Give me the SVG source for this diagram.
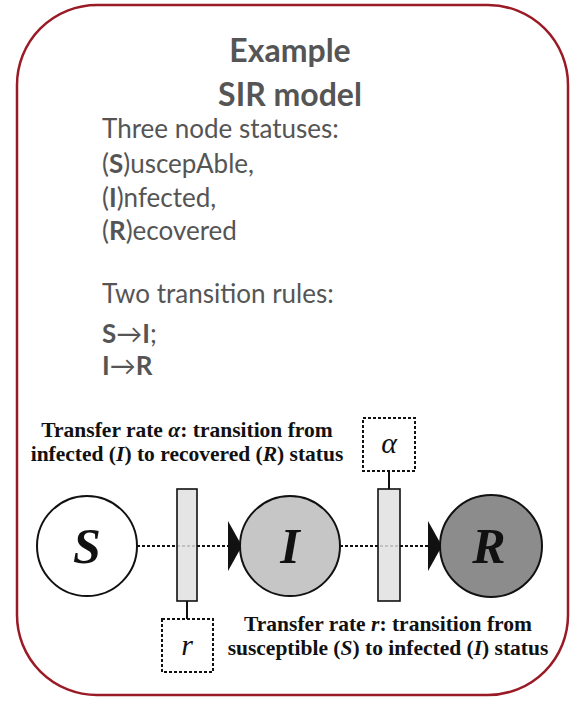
<svg xmlns="http://www.w3.org/2000/svg" width="570" height="702" viewBox="0 0 570 702">
  <style>
    .title { font-family: Lato, "Liberation Sans", sans-serif; font-weight: bold; font-size: 32px; fill: #555555; text-anchor: middle; }
    .body { font-family: Lato, "Liberation Sans", sans-serif; font-size: 26px; fill: #555555; }
    .b { font-weight: bold; }
    .cap { font-family: "Liberation Serif", "Times New Roman", serif; font-weight: bold; font-size: 21.5px; fill: #111111; text-anchor: middle; }
    .node { stroke: #111111; stroke-width: 2; }
    .sym { font-family: "Liberation Serif", "Times New Roman", serif; font-weight: bold; font-style: italic; font-size: 50px; fill: #111111; text-anchor: middle; }
    .param { font-family: "Liberation Serif", "Times New Roman", serif; font-style: italic; font-size: 30px; fill: #111111; text-anchor: middle; }
    .flow { stroke: #111111; stroke-width: 2.2; stroke-dasharray: 3 2; fill: none; }
    .box { stroke: #111111; stroke-width: 2; stroke-dasharray: 3 2; fill: #ffffff; }
    .gate { fill: #e0e0e0; fill-opacity: 0.85; stroke: #111111; stroke-width: 1.6; }
    .stem { stroke: #111111; stroke-width: 2; }
    .head { fill: #111111; }
  </style>

  <!-- frame -->
  <rect x="17" y="5" width="551" height="690" rx="80" ry="80" fill="#ffffff" stroke="#9a1b25" stroke-width="2.5"/>

  <!-- heading -->
  <g id="heading">
    <text class="title" x="290" y="62">Example</text>
    <text class="title" x="290" y="106">SIR model</text>
  </g>

  <!-- description -->
  <g id="description">
    <text class="body" x="102" y="138">Three node statuses:</text>
    <text class="body" x="102" y="173">(<tspan class="b">S</tspan>)uscepAble,</text>
    <text class="body" x="102" y="207">(<tspan class="b">I</tspan>)nfected,</text>
    <text class="body" x="102" y="240">(<tspan class="b">R</tspan>)ecovered</text>
    <text class="body" x="102" y="303">Two transition rules:</text>
    <text class="body" x="102" y="343"><tspan class="b">S</tspan>→<tspan class="b">I</tspan>;</text>
    <text class="body" x="102" y="375"><tspan class="b">I</tspan>→<tspan class="b">R</tspan></text>
  </g>

  <!-- connectors -->
  <g id="connectors">
    <line class="flow" x1="137" y1="546" x2="229" y2="546"/>
    <line class="flow" x1="340" y1="546" x2="429" y2="546"/>
    <line class="stem" x1="187" y1="601" x2="187" y2="619"/>
    <line class="stem" x1="389" y1="471" x2="389" y2="489"/>
  </g>

  <!-- rate gates -->
  <g id="gate-r">
    <rect class="gate" x="177" y="489" width="20" height="112"/>
  </g>
  <g id="gate-alpha">
    <rect class="gate" x="378" y="489" width="22" height="112"/>
  </g>

  <!-- compartments -->
  <g id="node-S">
    <circle class="node" cx="87" cy="546" r="50" fill="#ffffff"/>
    <text class="sym" x="87" y="563">S</text>
  </g>
  <g id="node-I">
    <polygon class="head" points="228,521 242,546 228,571"/>
    <circle class="node" cx="290" cy="546" r="50" fill="#c6c6c6"/>
    <text class="sym" x="290" y="563">I</text>
  </g>
  <g id="node-R">
    <polygon class="head" points="428,521 442,546 428,571"/>
    <circle class="node" cx="491" cy="546" r="51" fill="#8c8c8c"/>
    <text class="sym" x="489" y="563">R</text>
  </g>

  <!-- parameter boxes -->
  <g id="param-alpha">
    <rect class="box" x="363" y="418" width="52" height="53"/>
    <text class="param" x="389" y="453">α</text>
  </g>
  <g id="param-r">
    <rect class="box" x="162" y="619" width="51" height="53"/>
    <text class="param" x="187" y="655">r</text>
  </g>

  <!-- captions -->
  <g id="caption-alpha">
    <text class="cap" x="187" y="437">Transfer rate <tspan font-style="italic">α</tspan>: transition from</text>
    <text class="cap" x="187" y="461">infected (<tspan font-style="italic">I</tspan>) to recovered (<tspan font-style="italic">R</tspan>) status</text>
  </g>
  <g id="caption-r">
    <text class="cap" x="388" y="631">Transfer rate <tspan font-style="italic">r</tspan>: transition from</text>
    <text class="cap" x="388" y="655">susceptible (<tspan font-style="italic">S</tspan>) to infected (<tspan font-style="italic">I</tspan>) status</text>
  </g>
</svg>
